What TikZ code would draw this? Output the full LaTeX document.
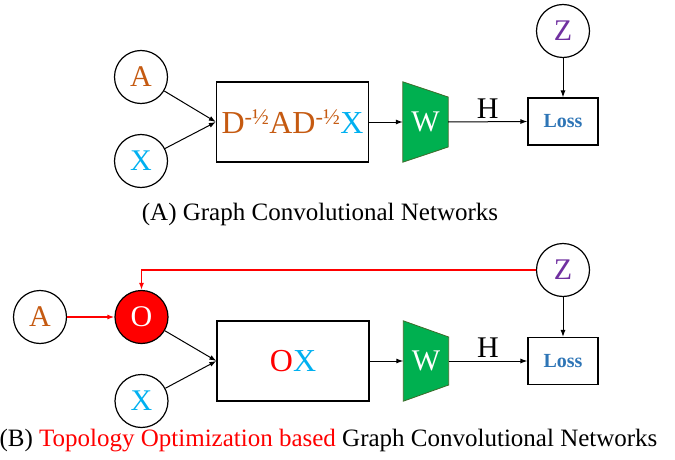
\documentclass[tikz,border=0pt]{standalone}
\usepackage{fontspec}
\setmainfont{Liberation Serif}
\usepackage{xcolor}
\usetikzlibrary{arrows.meta}
\usetikzlibrary{calc}
\usetikzlibrary{backgrounds}

\definecolor{aorange}{HTML}{C55A11}
\definecolor{xcyan}{HTML}{00B0F0}
\definecolor{zpurple}{HTML}{7030A0}
\definecolor{wgreen}{HTML}{00B050}
\definecolor{wedge}{HTML}{3E6B2A}
\definecolor{lossblue}{HTML}{2E75B6}

\tikzset{
  var/.style={draw, circle, line width=1.2pt, minimum size=53pt, inner sep=0pt, font=\fontsize{30}{30}\selectfont},
  opbox/.style={draw, line width=1.2pt, minimum width=152pt, minimum height=80pt, inner sep=0pt, font=\fontsize{32}{32}\selectfont},
  lossbox/.style={draw, line width=1.2pt, minimum width=70pt, minimum height=47pt, inner sep=0pt, text=lossblue, font=\fontsize{20}{20}\selectfont\bfseries},
  wnode/.style={minimum width=45pt, minimum height=80pt, inner sep=0pt, text=white, font=\fontsize{30}{30}\selectfont},
  wfill/.style={fill=wgreen, draw=wedge, line width=0.8pt},
  flow/.style={-{Latex[length=7pt,width=5pt]}, line width=1pt},
  redflow/.style={flow, red, line width=1.3pt},
  hlabel/.style={above, inner sep=3pt, font=\fontsize{30}{30}\selectfont},
  caption/.style={font=\fontsize{25}{25}\selectfont},
}

\begin{document}
\begin{tikzpicture}[x=1pt, y=-1pt]
\useasboundingbox (0,0) rectangle (675,460);

% (A) GCN
\begin{scope}
\node[var, text=aorange] (a1) at (141,77) {A};
\node[var, text=xcyan] (x1) at (141,161) {X};
\node[opbox] (box1) at (292.5,122) {\color{aorange}D\textsuperscript{-½}AD\textsuperscript{-½}\color{xcyan}X};
\node[wnode] (w1) at (425.5,122) {W};
\node[lossbox] (loss1) at (563,121.5) {Loss};
\node[var, text=zpurple] (z1) at (563,31) {Z};

\begin{scope}[on background layer]
\draw[wfill] (w1.north west) -- ($(w1.east)+(0,-25)$) -- ($(w1.east)+(0,25)$) -- (w1.south west) -- cycle;
\end{scope}

\draw[flow] (a1) -- (box1.west);
\draw[flow] (x1) -- (box1.west);
\draw[flow] (box1.east) -- (w1.west);
\draw[flow] (w1.east) -- node[hlabel] {H} (loss1.west);
\draw[flow] (z1) -- (loss1);

\node[caption] (capA) at (320,214) {(A) Graph Convolutional Networks};
\end{scope}

% (B) TO-GCN
\begin{scope}
\node[var, text=aorange] (a2) at (40,317) {A};
\node[var, fill=red, draw=black, text=white] (o2) at (141.5,317) {O};
\node[var, text=xcyan] (x2) at (141.5,401) {X};
\node[opbox] (box2) at (293,361) {\color{red}O\color{xcyan}X};
\node[wnode] (w2) at (426,361) {W};
\node[lossbox] (loss2) at (563,361) {Loss};
\node[var, text=zpurple] (z2) at (563,270) {Z};

\begin{scope}[on background layer]
\draw[wfill] (w2.north west) -- ($(w2.east)+(0,-24)$) -- ($(w2.east)+(0,24)$) -- (w2.south west) -- cycle;
\end{scope}

\draw[redflow] (a2) -- (o2);
\draw[redflow] (z2.west) -| (o2.north);
\draw[flow] (o2) -- (box2.west);
\draw[flow] (x2) -- (box2.west);
\draw[flow] (box2.east) -- (w2.west);
\draw[flow] (w2.east) -- node[hlabel] {H} (loss2.west);
\draw[flow] (z2) -- (loss2);

\node[caption] (capB) at (328.5,441) {(B) \textcolor{red}{Topology Optimization based} Graph Convolutional Networks};
\end{scope}

\end{tikzpicture}
\end{document}
